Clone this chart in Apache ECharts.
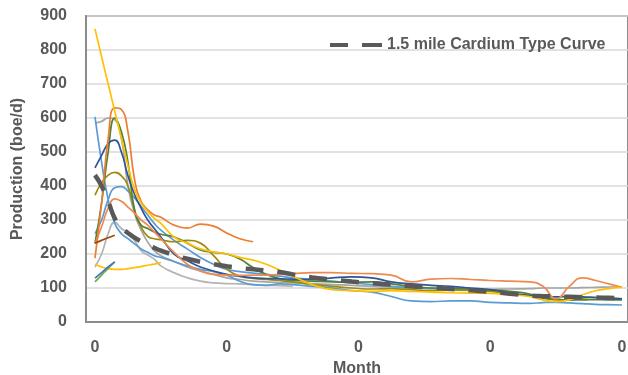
<!DOCTYPE html>
<html>
<head>
<meta charset="utf-8">
<script src="https://cdn.jsdelivr.net/npm/echarts@6/dist/echarts.min.js"></script>
<style>html,body{margin:0;padding:0;background:#fff}#c{width:628px;height:375px}</style>
</head>
<body>
<div id="c"></div>
<script>
// Months (x values)
const months = [0,1,2,3,4,5,6,7,8,9,10,12,14,16,18,20,22,24,26,28,30,33,36,39,42,45,48,51,54,57,60,63,66,68,70,72,74,76,78,80];
const xTickValues = [0,20,40,60,80];
const xTickLabels = ['0','0','0','0','0'];

// Type curve
const typeCurve = [432,400,355,305,278,262,248,237,227,218,210,197,186,177,170,164,159,155,151,147,140,131,125,119,114,110,105,101,97,93,89,83,78,76,75,74,73,72,71,70];

// Individual wells (boe/d), null = no data
const wellBlue600 = [603,470,360,290,260,245,230,215,205,195,190,178,165,155,148,138,120,110,108,112,110,105,100,92,88,75,62,60,62,62,58,56,55,57,58,56,54,52,51,50];
const wellBlue400 = [260,300,360,395,398,385,365,340,315,290,270,240,215,190,170,155,148,144,140,135,130,125,120,115,110,105,100,98,96,null,null,null,null,null,null,null,null,null,null,null];
const wellNavy = [453,490,525,535,500,430,375,335,300,275,250,200,180,162,150,140,134,130,128,127,126,125,130,133,130,118,112,108,105,100,95,85,78,75,74,75,74,72,70,68];
const wellDkGreen = [232,350,500,600,560,470,330,285,275,265,258,250,232,212,205,200,185,160,140,128,122,120,118,117,118,112,105,100,98,97,94,90,82,70,66,65,65,66,65,65];
const wellGray580 = [585,590,600,595,540,400,320,270,235,210,195,178,162,150,140,130,125,120,118,116,115,113,110,108,105,103,102,100,100,98,96,97,98,100,100,100,101,102,103,103];
const wellGray294 = [162,200,260,294,275,262,240,210,197,185,165,145,130,120,115,113,112,110,108,107,105,null,null,null,null,null,null,null,null,null,null,null,null,null,null,null,null,null,null,null];
const wellOrange635 = [188,350,540,630,625,560,420,355,330,315,308,285,276,288,282,262,245,236,null,null,null,null,null,null,null,null,null,null,null,null,null,null,null,null,null,null,null,null,null,null];
const wellOrange360 = [230,280,335,362,355,338,320,300,285,265,245,205,170,150,140,138,137,138,138,140,142,145,145,143,142,138,118,126,128,125,122,120,118,105,68,105,130,122,112,102];
const wellOlive = [373,410,432,440,430,400,330,280,252,245,242,236,240,232,195,155,135,128,125,122,118,110,105,100,97,98,95,92,94,93,90,82,78,72,66,65,70,72,70,68];
const wellYellow862 = [862,780,700,620,540,460,390,350,325,305,290,250,232,215,206,200,190,182,170,153,135,110,95,92,90,92,90,88,86,85,84,80,75,65,60,65,80,92,98,103];
const wellYellow170 = [170,162,157,155,155,157,160,163,167,170,175,null,null,null,null,null,null,null,null,null,null,null,null,null,null,null,null,null,null,null,null,null,null,null,null,null,null,null,null,null];
const wellBrown = [232,240,248,255];
const wellGreen = [118,138,158,177];
const wellBlueShort = [129,145,162,177];

const wells = [
  {v: wellGray294, c: '#B4B4B4'},
  {v: wellGray580, c: '#A5A5A5'},
  {v: wellBlue400, c: '#5B9BD5'},
  {v: wellBlue600, c: '#5B9BD5'},
  {v: wellOlive, c: '#9E8A10'},
  {v: wellDkGreen, c: '#548235'},
  {v: wellNavy, c: '#2F5597'},
  {v: wellOrange360, c: '#EE8A50'},
  {v: wellOrange635, c: '#ED7D31'},
  {v: wellYellow862, c: '#FFC000'},
  {v: wellYellow170, c: '#FFC000'},
  {v: wellBrown, c: '#9E480E'},
  {v: wellGreen, c: '#70AD47'},
  {v: wellBlueShort, c: '#4472C4'}
];

function pairs(arr) {
  const out = [];
  arr.forEach((v, i) => { if (v !== null && v !== undefined) out.push([months[i], v]); });
  return out;
}

const txt = '#595959';
const font = 'Liberation Sans';

const series = wells.map(w => ({
  type: 'line', data: pairs(w.v), smooth: true, symbol: 'none',
  lineStyle: {color: w.c, width: 1.7}, silent: true
}));
series.push({
  name: '1.5 mile Cardium Type Curve', type: 'line', data: pairs(typeCurve), smooth: true, symbol: 'none',
  lineStyle: {color: '#595959', width: 4.5, type: [18, 14]}, itemStyle: {color: '#595959'}, z: 5
});

const chart = echarts.init(document.getElementById('c'), null, {renderer: 'canvas'});
chart.setOption({
  animation: false,
  backgroundColor: '#fff',
  grid: {left: 86, right: 0, top: 16, bottom: 53, containLabel: false, outerBoundsMode: 'none',
         show: true, borderColor: '#8c8c8c', borderWidth: 2, backgroundColor: 'transparent'},
  legend: {
    data: [{name: '1.5 mile Cardium Type Curve', icon: 'path://M0,0h18v4h-18z M32,0h20v4h-20z'}],
    left: 325, top: 32, itemWidth: 52, itemHeight: 4, itemGap: 10,
    itemStyle: {color: '#595959'},
    textStyle: {color: txt, fontSize: 16, fontWeight: 'bold', fontFamily: font}
  },
  xAxis: {
    type: 'value', min: -1.366, max: 80.91,
    name: 'Month', nameLocation: 'middle', nameGap: 37,
    nameTextStyle: {color: txt, fontSize: 16, fontWeight: 'bold', fontFamily: font},
    axisLine: {show: true, onZero: false, lineStyle: {color: '#8c8c8c', width: 2}},
    axisTick: {show: false},
    splitLine: {show: false},
    axisLabel: {
      customValues: xTickValues,
      formatter: (v) => xTickLabels[xTickValues.indexOf(Math.round(v))] || '',
      color: txt, fontSize: 16, fontWeight: 'bold', fontFamily: font, margin: 18
    }
  },
  yAxis: {
    type: 'value', min: 0, max: 900, interval: 100,
    name: 'Production (boe/d)', nameLocation: 'middle', nameGap: 60, nameRotate: 90,
    nameTextStyle: {color: txt, fontSize: 16, fontWeight: 'bold', fontFamily: font},
    axisLine: {show: true, onZero: false, lineStyle: {color: '#8c8c8c', width: 2}},
    axisTick: {show: false},
    splitLine: {show: true, lineStyle: {color: '#d9d9d9', width: 1.5}},
    axisLabel: {color: txt, fontSize: 16, fontWeight: 'bold', fontFamily: font, margin: 19}
  },
  series: series
});
</script>
</body>
</html>
